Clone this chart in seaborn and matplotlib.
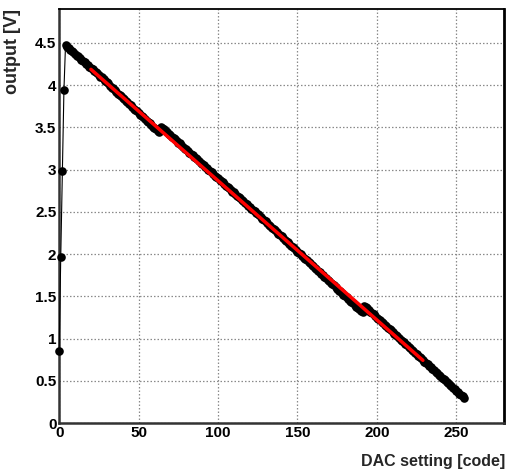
import numpy as np
import pandas as pd
import matplotlib
matplotlib.use("Agg")
import matplotlib.pyplot as plt
from matplotlib.ticker import MultipleLocator
import seaborn as sns

# DAC code -> measured output voltage
dac_code = list(range(0, 256))
output_v = [
    0.86, 1.97, 2.98, 3.94,
    # 4 - 31
    4.47, 4.45, 4.44, 4.42, 4.40, 4.39, 4.37, 4.35, 4.34, 4.32, 4.30, 4.29, 4.27, 4.25,
    4.24, 4.22, 4.20, 4.19, 4.17, 4.15, 4.14, 4.12, 4.10, 4.09, 4.07, 4.05, 4.04, 4.02,
    # 32 - 63
    3.99, 3.97, 3.96, 3.94, 3.92, 3.90, 3.88, 3.87, 3.85, 3.83, 3.81, 3.80, 3.78, 3.76,
    3.74, 3.72, 3.71, 3.69, 3.67, 3.65, 3.64, 3.62, 3.60, 3.58, 3.56, 3.55, 3.53, 3.51,
    3.49, 3.48, 3.46, 3.44,
    # 64 - 127
    3.51, 3.49, 3.48, 3.46, 3.44, 3.42, 3.41, 3.39, 3.37, 3.36, 3.34, 3.32, 3.31, 3.29,
    3.27, 3.25, 3.24, 3.22, 3.20, 3.19, 3.17, 3.15, 3.14, 3.12, 3.10, 3.08, 3.07, 3.05,
    3.03, 3.02, 3.00, 2.98, 2.97, 2.95, 2.93, 2.91, 2.90, 2.88, 2.86, 2.85, 2.83, 2.81,
    2.80, 2.78, 2.76, 2.74, 2.73, 2.71, 2.69, 2.68, 2.66, 2.64, 2.63, 2.61, 2.59, 2.57,
    2.56, 2.54, 2.52, 2.51, 2.49, 2.47, 2.46, 2.44,
    # 128 - 191
    2.42, 2.40, 2.39, 2.37, 2.35, 2.33, 2.31, 2.30, 2.28, 2.26, 2.24, 2.23, 2.21, 2.19,
    2.17, 2.16, 2.14, 2.12, 2.10, 2.09, 2.07, 2.05, 2.03, 2.01, 2.00, 1.98, 1.96, 1.94,
    1.93, 1.91, 1.89, 1.87, 1.86, 1.84, 1.82, 1.80, 1.79, 1.77, 1.75, 1.73, 1.72, 1.70,
    1.68, 1.66, 1.65, 1.63, 1.61, 1.59, 1.57, 1.56, 1.54, 1.52, 1.50, 1.49, 1.47, 1.45,
    1.43, 1.42, 1.40, 1.38, 1.36, 1.35, 1.33, 1.31,
    # 192 - 255
    1.39, 1.37, 1.36, 1.34, 1.32, 1.30, 1.29, 1.27, 1.25, 1.23, 1.22, 1.20, 1.18, 1.16,
    1.15, 1.13, 1.11, 1.10, 1.08, 1.06, 1.04, 1.03, 1.01, 0.99, 0.97, 0.96, 0.94, 0.92,
    0.90, 0.89, 0.87, 0.85, 0.83, 0.82, 0.80, 0.78, 0.77, 0.75, 0.73, 0.71, 0.70, 0.68,
    0.66, 0.64, 0.63, 0.61, 0.59, 0.57, 0.56, 0.54, 0.52, 0.51, 0.49, 0.47, 0.45, 0.44,
    0.42, 0.40, 0.38, 0.37, 0.35, 0.33, 0.32, 0.30,
]

# linear fit: output = p0 + p1 * code, over the fit range
fit_p0 = 4.516
fit_p1 = -0.01647
fit_range = [20, 229]

x_ticks = [0, 50, 100, 150, 200, 250]
y_ticks = [0, 0.5, 1, 1.5, 2, 2.5, 3, 3.5, 4, 4.5]
x_label = "DAC setting [code]"
y_label = "output [V]"

sns.set_theme(style="white")
fonts = ["Liberation Sans", "DejaVu Sans"]
plt.rcParams["font.family"] = fonts

fig = plt.figure(figsize=(5.10, 4.75), dpi=100)
ax = fig.add_axes([0.116, 0.109, 0.872, 0.872])

data = pd.DataFrame({"code": dac_code, "output": output_v})
sns.lineplot(data=data, x="code", y="output", ax=ax, color="black", linewidth=0.8,
             marker="o", markersize=6.2, markeredgewidth=0, markerfacecolor="black",
             clip_on=False, zorder=3, sort=False)

fit_x = np.array(fit_range, dtype=float)
fit = pd.DataFrame({"code": fit_x, "output": fit_p0 + fit_p1 * fit_x})
sns.lineplot(data=fit, x="code", y="output", ax=ax, color="#ff0000", linewidth=2.5,
             zorder=4)

ax.set_xlim(0, 280)
ax.set_ylim(0, 4.9)
ax.set_xticks(x_ticks)
ax.set_yticks(y_ticks)
ax.set_xticklabels([f"{v:g}" for v in x_ticks])
ax.set_yticklabels([f"{v:g}" for v in y_ticks])
ax.xaxis.set_minor_locator(MultipleLocator(10))
ax.yaxis.set_minor_locator(MultipleLocator(0.1))

ax.grid(True, which="major", color="#8a8a8a", linestyle=(0, (1.2, 1.6)), linewidth=0.9)
ax.set_axisbelow(True)

ax.tick_params(which="both", direction="in", colors="#333333", top=False, right=False,
               labelcolor="black")
ax.tick_params(which="major", length=9, width=1.3, labelsize=11, pad=2)
ax.tick_params(which="minor", length=5, width=1.3)
for lbl in ax.get_xticklabels() + ax.get_yticklabels():
    lbl.set_fontweight("bold")

for side in ["left", "bottom"]:
    ax.spines[side].set_color("#333333")
    ax.spines[side].set_linewidth(1.8)
ax.spines["right"].set_color("black")
ax.spines["right"].set_linewidth(2.0)
ax.spines["top"].set_color("black")
ax.spines["top"].set_linewidth(1.3)

ax.set_xlabel("")
ax.set_ylabel("")
fig.text(0.990, 0.012, x_label, ha="right", va="bottom", fontsize=11.5,
         fontweight="bold", family=fonts)
fig.text(0.008, 0.981, y_label, ha="left", va="top", rotation=90, fontsize=13,
         fontweight="bold", family=fonts)

fig.savefig("out.png", dpi=100)
